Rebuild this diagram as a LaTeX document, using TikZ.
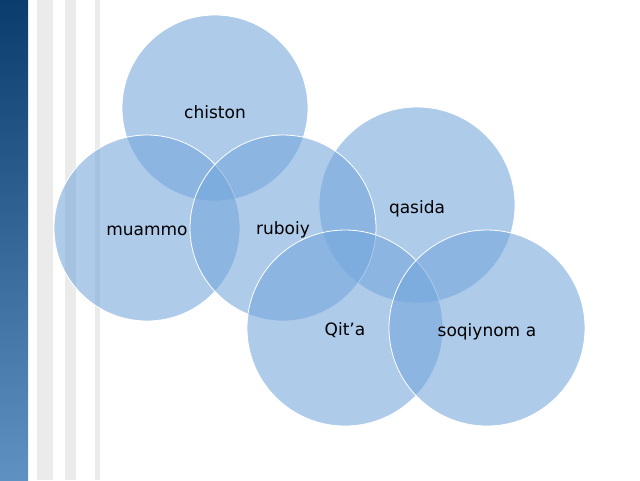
\documentclass[tikz,border=0pt]{standalone}
\usepackage{fontspec}
\setmainfont{DejaVu Sans}
\definecolor{bubble}{RGB}{115,165,219}
\definecolor{bartop}{RGB}{10,60,110}
\definecolor{barbot}{RGB}{95,145,195}
\definecolor{stripe}{RGB}{235,235,235}
\tikzset{
  bubble/.style={circle,minimum size=#1,inner sep=0pt,draw=white,line width=0.8pt,fill=bubble,fill opacity=0.58,text opacity=1},
  word/.style={font=\fontsize{17}{19}\selectfont,align=center,text width=110pt}
}
\begin{document}
\begin{tikzpicture}[x=1pt,y=-1pt]
    \useasboundingbox (0,0) rectangle (640,480);
    % side bars
    \shade[top color=bartop,bottom color=barbot] (0,0) rectangle (28,480);
    \fill[stripe] (37,0) rectangle (53,480);
    \fill[stripe] (65,0) rectangle (76,480);
    \fill[stripe] (95,0) rectangle (100,480);
    % circles
    \node[bubble=186pt] (chiston) at (215,108) {};
    \node[bubble=196pt] (qasida) at (417,205) {};
    \node[bubble=186pt] (muammo) at (147,228) {};
    \node[bubble=186pt] (ruboiy) at (283,228) {};
    \node[bubble=196pt] (qita) at (345,328) {};
    \node[bubble=196pt] (soqiynoma) at (487,328) {};
    % labels
    \node[word] at (215,112) {chiston};
    \node[word] at (417,209) {qasida};
    \node[word,text width=90pt] at (147,231) {muammo};
    \node[word] at (283,230) {ruboiy};
    \node[word] at (345,330) {Qit’a};
    \node[word,text width=100pt] at (487,332) {soqiynom a};
\end{tikzpicture}
\end{document}
